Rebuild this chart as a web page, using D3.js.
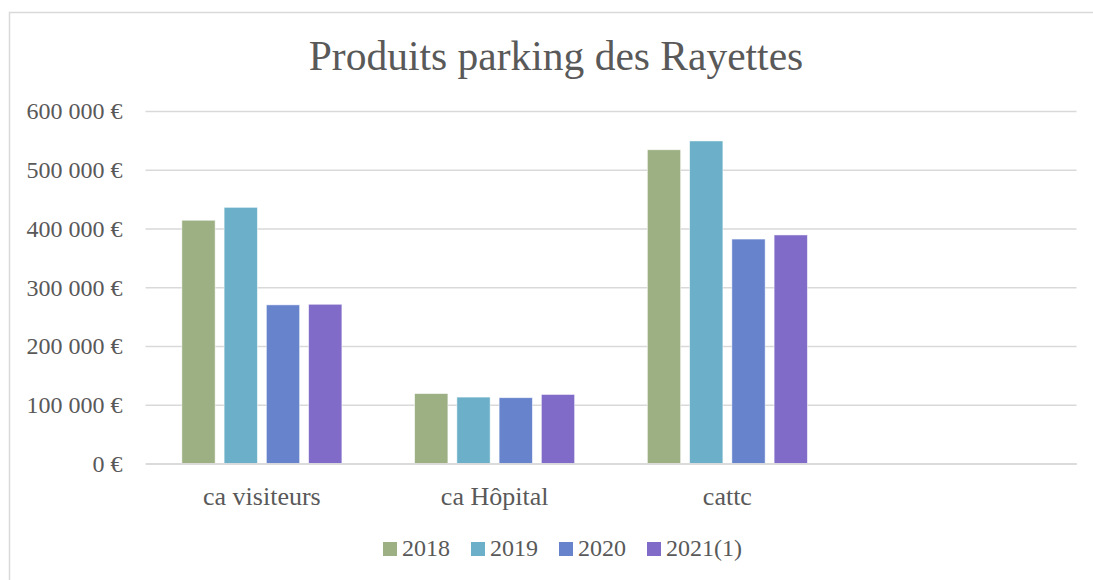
<!DOCTYPE html>
<html><head><meta charset="utf-8">
<script src="https://cdn.jsdelivr.net/npm/d3@7"></script>
<style>body{margin:0;background:#fff}svg{display:block}text{font-family:"Liberation Serif",serif;fill:#595959}</style>
</head><body><svg id="c" width="1093" height="580"></svg>
<script>
const title = "Produits parking des Rayettes";
const categories = ["ca visiteurs", "ca Hôpital", "cattc", ""];
const seriesNames = ["2018", "2019", "2020", "2021(1)"];
const s2018 = [414000, 119000, 534000, null];
const s2019 = [436000, 113000, 549000, null];
const s2020 = [270000, 112000, 382000, null];
const s2021 = [271000, 117500, 389000, null];
const yTicks = [0, 100000, 200000, 300000, 400000, 500000, 600000];
const colors = ["#9CB084", "#6BB0C8", "#6683CC", "#806BC8"];
const seriesValues = [s2018, s2019, s2020, s2021];

(function () {
const svg = d3.select("#c");
svg.append("rect").attr("x", 9.5).attr("y", 12.5).attr("width", 1200).attr("height", 700)
  .attr("fill", "#fff").attr("stroke", "#D9D9D9").attr("stroke-width", 1.5);

svg.append("text").attr("x", 556).attr("y", 70).attr("text-anchor", "middle")
  .style("font-size", "41.5px").text(title);

const pLeft = 145.5, pRight = 1076.5, pTop = 111, pBottom = 463.5;
const y = d3.scaleLinear().domain([0, 600000]).range([pBottom, pTop]);
const x0 = d3.scaleBand().domain(categories.map((c, i) => i)).range([pLeft, pRight]).padding(0);
const groupFrac = 160 / 232.75;
const gOff = x0.bandwidth() * (1 - groupFrac) / 2;
const x1 = d3.scaleBand().domain(seriesNames).range([gOff, gOff + x0.bandwidth() * groupFrac]).paddingInner(0.213).paddingOuter(0);

const fmt = v => (v === 0 ? "0" : d3.format(",")(v).replace(/,/g, " ")) + " €";
const yAxis = d3.axisLeft(y).tickValues(yTicks).tickSize(-(pRight - pLeft)).tickFormat(fmt).tickPadding(23);
const ga = svg.append("g").attr("transform", `translate(${pLeft},0)`).call(yAxis);
ga.select(".domain").remove();
ga.selectAll(".tick line").attr("stroke", "#D9D9D9").attr("stroke-width", 1.3);
ga.selectAll(".tick text").style("font-size", "24px").attr("fill", "#595959").attr("dy", "0.33em")
  .style("font-family", "Liberation Serif");

const groups = svg.append("g").selectAll("g").data(categories).join("g")
  .attr("transform", (d, i) => `translate(${x0(i)},0)`);
groups.selectAll("rect").data((d, i) => seriesNames.map((s, k) => ({s, k, v: seriesValues[k][i]})).filter(e => e.v != null))
  .join("rect")
  .attr("x", e => x1(e.s)).attr("width", x1.bandwidth())
  .attr("y", e => y(e.v)).attr("height", e => y(0) - y(e.v))
  .attr("fill", e => colors[e.k]).attr("stroke", "rgba(255,255,255,0.6)").attr("stroke-width", 0.8);

const xAxis = d3.axisBottom(x0).tickSize(0).tickPadding(23).tickFormat(i => categories[i]);
const gx = svg.append("g").attr("transform", `translate(0,${pBottom})`).call(xAxis);
gx.select(".domain").attr("stroke", "#D9D9D9").attr("stroke-width", 1.5);
gx.selectAll(".tick text").style("font-size", "26px").attr("fill", "#595959").style("font-family", "Liberation Serif");

const legendX = [383, 471, 559, 647];
const lg = svg.append("g").selectAll("g").data(seriesNames).join("g")
  .attr("transform", (d, i) => `translate(${legendX[i]},542)`);
lg.append("rect").attr("width", 14).attr("height", 14).attr("fill", (d, i) => colors[i]);
lg.append("text").attr("x", 19).attr("y", 14).style("font-size", "24px").text(d => d);
})();
</script></body></html>
